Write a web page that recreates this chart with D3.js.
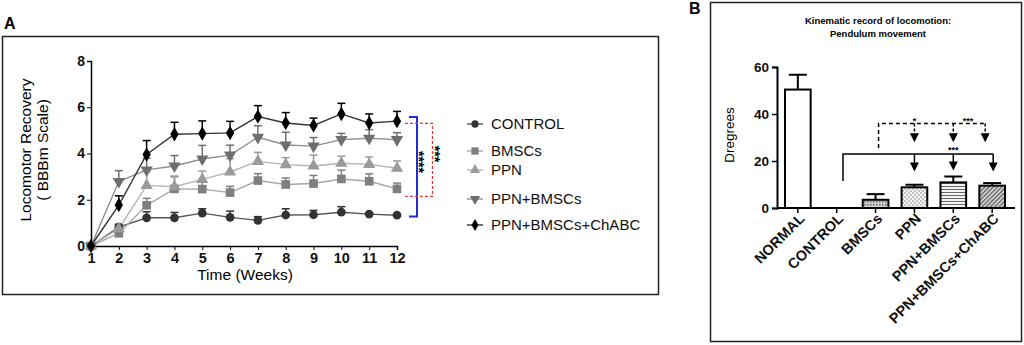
<!DOCTYPE html>
<html>
<head>
<meta charset="utf-8">
<script src="https://cdn.jsdelivr.net/npm/d3@7"></script>
<style>
  body { margin: 0; background: #fff; }
  svg { display: block; font-family: "Liberation Sans", Arial, sans-serif; }
</style>
</head>
<body>
<div id="chart"></div>
<script>
// ---- panel A data (BBBm score per week) ----
const weeks = [1,2,3,4,5,6,7,8,9,10,11,12];
const groupNames = ["CONTROL","BMSCs","PPN","PPN+BMSCs","PPN+BMSCs+ChABC"];
const controlVals = [0,0.82,1.22,1.22,1.42,1.24,1.11,1.34,1.35,1.46,1.38,1.33];
const controlErr  = [0,0.12,0.26,0.23,0.19,0.27,0.16,0.27,0.19,0.24,0.05,0.05];
const bmscVals = [0,0.55,1.76,2.47,2.46,2.31,2.83,2.66,2.7,2.9,2.8,2.47];
const bmscErr  = [0,0.12,0.3,0.55,0.35,0.27,0.3,0.28,0.35,0.38,0.32,0.25];
const ppnVals = [0,0.75,2.62,2.56,2.88,3.2,3.66,3.52,3.46,3.58,3.53,3.36];
const ppnErr  = [0,0.1,0.6,0.43,0.36,0.58,0.39,0.3,0.47,0.3,0.32,0.32];
const ppnBmscVals = [0,2.79,3.29,3.46,3.76,3.93,4.7,4.37,4.32,4.6,4.66,4.6];
const ppnBmscErr  = [0,0.47,0.5,0.45,0.59,0.43,0.5,0.55,0.37,0.27,0.37,0.3];
const chabcVals = [0,1.77,3.96,4.83,4.86,4.89,5.6,5.32,5.21,5.71,5.32,5.4];
const chabcErr  = [0,0.4,0.6,0.52,0.55,0.5,0.47,0.45,0.32,0.46,0.39,0.42];
const yTicksA = [0,2,4,6,8];

// ---- panel B data (pendulum degrees) ----
const barCats = ["NORMAL","CONTROL","BMSCs","PPN","PPN+BMSCs","PPN+BMSCs+ChABC"];
const barVals = [50.4,0,3.5,8.8,10.9,9.5];
const barErr  = [6.3,0,2.4,1.1,2.5,1.1];
const yTicksB = [0,20,40,60];

const W = 1024, H = 345;
const svg = d3.select("#chart").append("svg").attr("width", W).attr("height", H);

// ================= Panel A =================
svg.append("text").attr("x", 4).attr("y", 29).text("A")
  .style("font-weight","bold").style("font-size","16px");
svg.append("rect").attr("x", 2.5).attr("y", 36.5).attr("width", 656).attr("height", 258)
  .attr("fill","none").attr("stroke","#222").attr("stroke-width",1.5);

const xA = d3.scaleLinear().domain([1,12]).range([91,397]);
const yA = d3.scaleLinear().domain([0,8]).range([246,61]);

const gA = svg.append("g");
gA.append("g").attr("transform","translate(0,246)")
  .call(d3.axisBottom(xA).tickValues(weeks).tickSize(4).tickPadding(3).tickFormat(d3.format("d")))
  .call(g => g.select(".domain").attr("stroke","#000").attr("stroke-width",1.5))
  .call(g => g.selectAll("text").style("font-size","14.5px").style("font-weight","bold")
    .style("font-family","Liberation Sans, Arial, sans-serif").attr("fill","#111"));
gA.append("g").attr("transform","translate(91,0)")
  .call(d3.axisLeft(yA).tickValues(yTicksA).tickSize(4).tickPadding(2))
  .call(g => g.select(".domain").attr("stroke","#000").attr("stroke-width",1.5))
  .call(g => g.selectAll("text").style("font-size","14px").style("font-weight","bold")
    .style("font-family","Liberation Sans, Arial, sans-serif").attr("fill","#111"));

svg.append("text").attr("x", 245).attr("y", 280).attr("text-anchor","middle")
  .style("font-size","15.5px").text("Time (Weeks)");
const yl = svg.append("text").attr("transform","translate(31,150) rotate(-90)")
  .attr("text-anchor","middle").style("font-size","15.5px");
yl.append("tspan").attr("x",0).attr("dy",0).text("Locomotor Recovery");
yl.append("tspan").attr("x",0).attr("dy",17).text("( BBBm Scale)");

const series = [
  {name: groupNames[0], vals: controlVals, err: controlErr, color: "#333", line: "#555", sym: d3.symbolCircle, size: 60, rot: 0},
  {name: groupNames[1], vals: bmscVals, err: bmscErr, color: "#7f7f7f", line: "#a6a6a6", sym: d3.symbolSquare, size: 75, rot: 0},
  {name: groupNames[2], vals: ppnVals, err: ppnErr, color: "#9a9a9a", line: "#b5b5b5", sym: d3.symbolTriangle, size: 65, rot: 0},
  {name: groupNames[3], vals: ppnBmscVals, err: ppnBmscErr, color: "#6e6e6e", line: "#8e8e8e", sym: d3.symbolTriangle, size: 65, rot: 180},
  {name: groupNames[4], vals: chabcVals, err: chabcErr, color: "#000", line: "#333", sym: d3.symbolDiamond, size: 60, rot: 0}
];

const lineGen = d3.line().x((d,i) => xA(weeks[i])).y(d => yA(d));
series.forEach(s => {
  const g = gA.append("g");
  // upper error whisker only
  weeks.forEach((w,i) => {
    if (s.err[i] <= 0) return;
    const x = xA(w), y0 = yA(s.vals[i]), y1 = yA(s.vals[i] + s.err[i]);
    g.append("line").attr("x1",x).attr("x2",x).attr("y1",y0).attr("y2",y1)
      .attr("stroke",s.color).attr("stroke-width",1.5);
    g.append("line").attr("x1",x-4).attr("x2",x+4).attr("y1",y1).attr("y2",y1)
      .attr("stroke",s.color).attr("stroke-width",1.5);
  });
  g.append("path").datum(s.vals).attr("d", lineGen)
    .attr("fill","none").attr("stroke",s.line).attr("stroke-width",1.4);
});
series.forEach(s => {
  gA.append("g").selectAll("path").data(s.vals).enter().append("path")
    .attr("d", d3.symbol().type(s.sym).size(s.size))
    .attr("transform",(d,i) => `translate(${xA(weeks[i])},${yA(d)}) rotate(${s.rot})`)
    .attr("fill", s.color);
});

// significance brackets
svg.append("path")
  .attr("d", `M409,${yA(5.58)}H417V${yA(1.28)}H409`)
  .attr("fill","none").attr("stroke","#1f2bd6").attr("stroke-width",2);
svg.append("path")
  .attr("d", `M405,${yA(5.3)}H432.5V${yA(2.15)}H405`)
  .attr("fill","none").attr("stroke","#e8383d").attr("stroke-width",1.3).attr("stroke-dasharray","3,2");
svg.append("text").attr("transform",`translate(414,162) rotate(90)`).attr("text-anchor","middle")
  .attr("fill","#000").style("font-size","14px").style("font-weight","bold").text("****");
svg.append("text").attr("transform",`translate(430,154) rotate(90)`).attr("text-anchor","middle")
  .attr("fill","#000").style("font-size","14px").style("font-weight","bold").text("***");

// legend
const legY = [124, 151, 170, 199, 225];
series.forEach((s,i) => {
  const g = svg.append("g").attr("transform",`translate(475,${legY[i]})`);
  g.append("line").attr("x1",-8).attr("x2",8).attr("stroke",s.line).attr("stroke-width",1.4);
  g.append("path").attr("d", d3.symbol().type(s.sym).size(s.size*0.7)).attr("transform",`rotate(${s.rot})`)
    .attr("fill", s.color);
  g.append("text").attr("x",16).attr("dy","0.35em").style("font-size","15px").attr("fill","#111").text(s.name);
});

// ================= Panel B =================
svg.append("text").attr("x", 689).attr("y", 14).text("B")
  .style("font-weight","bold").style("font-size","16px");
svg.append("rect").attr("x", 710.5).attr("y", 2.5).attr("width", 311).attr("height", 339)
  .attr("fill","none").attr("stroke","#222").attr("stroke-width",1.5);

const defs = svg.append("defs");
const pDots = defs.append("pattern").attr("id","pDots").attr("width",3).attr("height",3).attr("patternUnits","userSpaceOnUse");
pDots.append("rect").attr("width",3).attr("height",3).attr("fill","#d0d0d0");
pDots.append("rect").attr("width",1.5).attr("height",1.5).attr("fill","#6a6a6a");
const pCheck = defs.append("pattern").attr("id","pCheck").attr("width",4).attr("height",4).attr("patternUnits","userSpaceOnUse");
pCheck.append("rect").attr("width",4).attr("height",4).attr("fill","#f4f4f4");
pCheck.append("rect").attr("width",2).attr("height",2).attr("fill","#c4c4c4");
pCheck.append("rect").attr("x",2).attr("y",2).attr("width",2).attr("height",2).attr("fill","#c4c4c4");
const pHoriz = defs.append("pattern").attr("id","pHoriz").attr("width",4).attr("height",3).attr("patternUnits","userSpaceOnUse");
pHoriz.append("rect").attr("width",4).attr("height",3).attr("fill","#f2f2f2");
pHoriz.append("rect").attr("width",4).attr("height",1).attr("fill","#666");
const pDiag = defs.append("pattern").attr("id","pDiag").attr("width",3).attr("height",3)
  .attr("patternUnits","userSpaceOnUse").attr("patternTransform","rotate(45)");
pDiag.append("rect").attr("width",3).attr("height",3).attr("fill","#d8d8d8");
pDiag.append("rect").attr("width",1.2).attr("height",3).attr("fill","#555");
const barFills = ["#fff","#fff","url(#pDots)","url(#pCheck)","url(#pHoriz)","url(#pDiag)"];

const xB = d3.scaleBand().domain(barCats).range([778,1012]).paddingInner(0.34).paddingOuter(0.18);
const yB = d3.scaleLinear().domain([0,60]).range([208,67]);

svg.append("text").attr("x",878).attr("y",24).attr("text-anchor","middle")
  .style("font-size","9.5px").style("font-weight","bold").text("Kinematic record of locomotion:");
svg.append("text").attr("x",878).attr("y",37).attr("text-anchor","middle")
  .style("font-size","9.5px").style("font-weight","bold").text("Pendulum movement");

const gB = svg.append("g");
// error whiskers behind bars
barCats.forEach((c,i) => {
  if (barErr[i] <= 0) return;
  const x = xB(c) + xB.bandwidth()/2, y0 = yB(barVals[i]), y1 = yB(barVals[i] + barErr[i]);
  gB.append("line").attr("x1",x).attr("x2",x).attr("y1",y0).attr("y2",y1).attr("stroke","#000").attr("stroke-width",2);
  gB.append("line").attr("x1",x-9).attr("x2",x+9).attr("y1",y1).attr("y2",y1).attr("stroke","#000").attr("stroke-width",2);
});
gB.selectAll("rect.bar").data(barCats).enter().append("rect").attr("class","bar")
  .attr("x", c => xB(c)).attr("width", xB.bandwidth())
  .attr("y", (c,i) => yB(barVals[i])).attr("height", (c,i) => yB(0) - yB(barVals[i]))
  .attr("fill", (c,i) => barFills[i])
  .attr("stroke", (c,i) => barVals[i] > 0 ? "#000" : "none").attr("stroke-width",2);

gB.append("g").attr("transform","translate(0,208)")
  .call(d3.axisBottom(xB).tickSize(5).tickSizeOuter(0).tickPadding(4))
  .call(g => g.select(".domain").attr("stroke","#000").attr("stroke-width",2).attr("d","M777,0H1015"))
  .call(g => g.selectAll(".tick line").attr("stroke","#000").attr("stroke-width",1.5))
  .call(g => g.selectAll("text").style("font-size","14.5px").style("font-weight","bold")
    .style("font-family","Liberation Sans, Arial, sans-serif").attr("fill","#111")
    .attr("text-anchor","end").attr("dy","0.35em")
    .attr("transform","translate(4,8) rotate(-45)").attr("x",0).attr("y",0));
gB.append("g").attr("transform","translate(777,0)")
  .call(d3.axisLeft(yB).tickValues(yTicksB).tickSize(5).tickPadding(3))
  .call(g => g.select(".domain").attr("stroke","#000").attr("stroke-width",2))
  .call(g => g.selectAll(".tick line").attr("stroke","#000").attr("stroke-width",1.5))
  .call(g => g.selectAll("text").style("font-size","13.5px").style("font-weight","bold")
    .style("font-family","Liberation Sans, Arial, sans-serif").attr("fill","#111"));
svg.append("text").attr("transform","translate(734,135) rotate(-90)").attr("text-anchor","middle")
  .style("font-size","13.5px").text("Dregrees");

// comparison arrows
const cx = c => xB(c) + xB.bandwidth()/2;
function arrowHead(x, yTip) {
  svg.append("path").attr("d", `M${x-4.5},${yTip-9}L${x+4.5},${yTip-9}L${x},${yTip}Z`).attr("fill","#000");
}
// solid bracket: CONTROL vs treatments
const solidY = yB(23);
const solidEnds = [["PPN",15.5,0],["PPN+BMSCs",16,0],["PPN+BMSCs+ChABC",15.5,1]];
svg.append("path").attr("d", `M843,${yB(11.5)}V${solidY}H${cx("PPN+BMSCs+ChABC")+1}`)
  .attr("fill","none").attr("stroke","#000").attr("stroke-width",1.5);
solidEnds.forEach(([c,v,dx]) => {
  const x = cx(c) + dx;
  svg.append("line").attr("x1",x).attr("x2",x).attr("y1",solidY).attr("y2",yB(v)-8)
    .attr("stroke","#000").attr("stroke-width",1.5);
  arrowHead(x, yB(v));
});
svg.append("text").attr("x",cx("PPN+BMSCs")).attr("y",solidY-1).attr("text-anchor","middle")
  .style("font-size","9px").style("font-weight","bold").text("***");
// dashed bracket: BMSCs vs treatments
const dashY = yB(36);
const dashEnds = [["PPN",28,0],["PPN+BMSCs",28,0],["PPN+BMSCs+ChABC",28,-7]];
svg.append("path").attr("d", `M${cx("BMSCs")+3},${yB(25.5)}V${dashY}H${cx("PPN+BMSCs+ChABC")-7}`)
  .attr("fill","none").attr("stroke","#000").attr("stroke-width",1.5).attr("stroke-dasharray","4,3");
dashEnds.forEach(([c,v,dx]) => {
  const x = cx(c) + dx;
  svg.append("line").attr("x1",x).attr("x2",x).attr("y1",dashY).attr("y2",yB(v)-8)
    .attr("stroke","#000").attr("stroke-width",1.5).attr("stroke-dasharray","3,2");
  arrowHead(x, yB(v));
});
svg.append("text").attr("x",cx("PPN")).attr("y",dashY+1).attr("text-anchor","middle")
  .style("font-size","9px").style("font-weight","bold").text("*");
svg.append("text").attr("x",968).attr("y",dashY+1).attr("text-anchor","middle")
  .style("font-size","9px").style("font-weight","bold").text("***");
</script>
</body>
</html>
